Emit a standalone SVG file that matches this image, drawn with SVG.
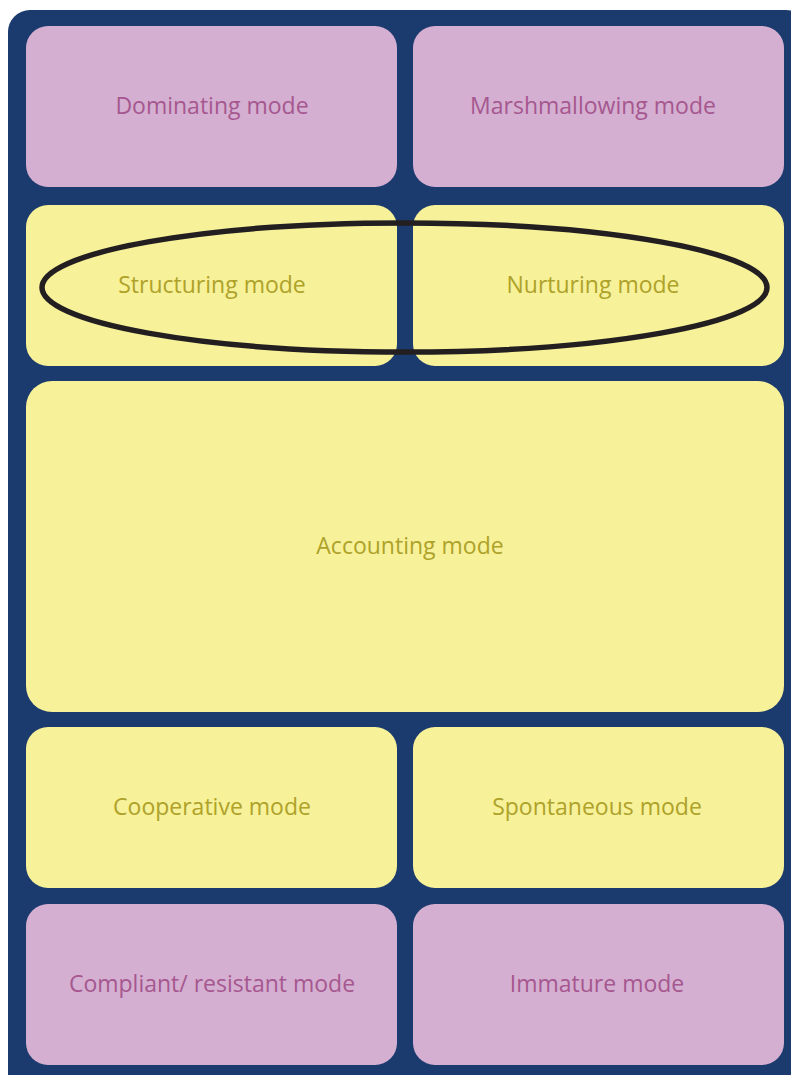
<svg xmlns="http://www.w3.org/2000/svg" width="791" height="1075" viewBox="0 0 791 1075">
<style>
.pink{fill:#d4afd1}
.yel{fill:#f7f199}
.tp{fill:#a6578f;font-family:"Open Sans",sans-serif;font-size:23px;text-anchor:middle}
.ty{fill:#aea22a;font-family:"Open Sans",sans-serif;font-size:23px;text-anchor:middle}
</style>
<rect x="8" y="10" width="800" height="1090" rx="22" fill="#1b3a6d"/>
<g id="dominating"><rect class="pink" x="26" y="26" width="371" height="161" rx="22"/><text class="tp" x="212" y="114">Dominating mode</text></g>
<g id="marshmallowing"><rect class="pink" x="413" y="26" width="371" height="161" rx="22"/><text class="tp" x="593" y="114">Marshmallowing mode</text></g>
<g id="structuring"><rect class="yel" x="26" y="205" width="371" height="161" rx="22"/><text class="ty" x="212" y="293">Structuring mode</text></g>
<g id="nurturing"><rect class="yel" x="413" y="205" width="371" height="161" rx="22"/><text class="ty" x="593" y="293">Nurturing mode</text></g>
<g id="accounting"><rect class="yel" x="26" y="381" width="758" height="331" rx="26"/><text class="ty" x="410" y="554">Accounting mode</text></g>
<g id="cooperative"><rect class="yel" x="26" y="727" width="371" height="161" rx="22"/><text class="ty" x="212" y="815">Cooperative mode</text></g>
<g id="spontaneous"><rect class="yel" x="413" y="727" width="371" height="161" rx="22"/><text class="ty" x="597" y="815">Spontaneous mode</text></g>
<g id="compliant"><rect class="pink" x="26" y="904" width="371" height="161" rx="22"/><text class="tp" x="212" y="992">Compliant/ resistant mode</text></g>
<g id="immature"><rect class="pink" x="413" y="904" width="371" height="161" rx="22"/><text class="tp" x="597" y="992">Immature mode</text></g>
<g id="connectors"><ellipse cx="404.5" cy="287.5" rx="362.5" ry="64.5" fill="none" stroke="#231f20" stroke-width="5.5"/></g>
</svg>
